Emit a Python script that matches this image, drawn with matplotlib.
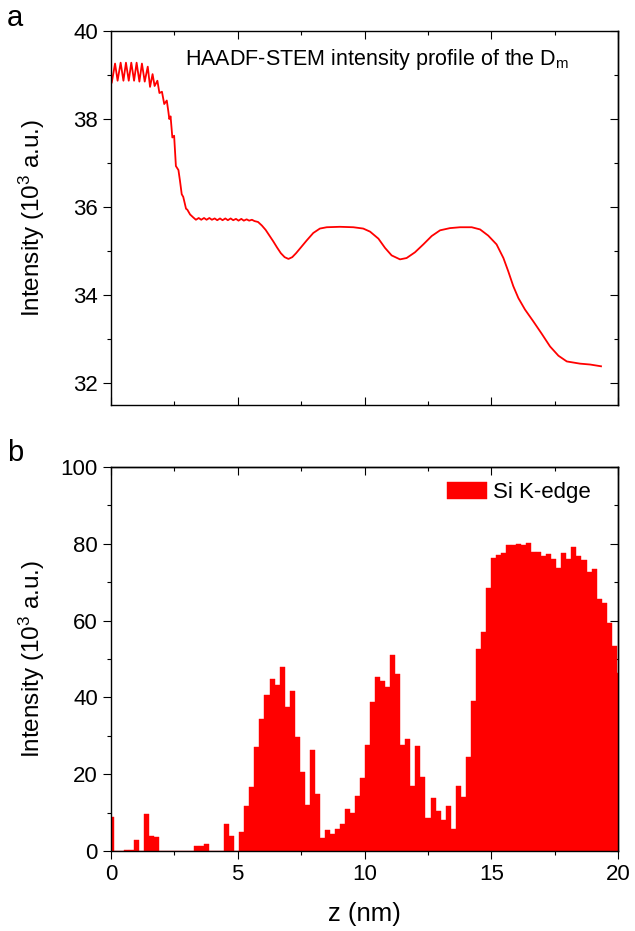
import numpy as np
import matplotlib.pyplot as plt
from matplotlib.ticker import MultipleLocator

plt.rcParams['font.family'] = ['Liberation Sans', 'DejaVu Sans']
plt.rcParams['mathtext.fontset'] = 'custom'
plt.rcParams['mathtext.rm'] = 'Liberation Sans'
plt.rcParams['mathtext.it'] = 'Liberation Sans:italic'

# HAADF-STEM intensity profile (panel a), z in nm, intensity in 10^3 a.u.
z_prof = [0.03, 0.16, 0.26, 0.38, 0.49, 0.59, 0.70, 0.80, 0.91, 1.01,
          1.12, 1.22, 1.33, 1.45, 1.54, 1.64, 1.72, 1.83, 1.91, 2.01,
          2.10, 2.20, 2.26, 2.30, 2.35, 2.42, 2.49, 2.56, 2.66, 2.72,
          2.79, 2.85, 2.96, 3.01, 3.12, 3.25, 3.35, 3.46, 3.56, 3.67,
          3.77, 3.88, 3.98, 4.09, 4.19, 4.30, 4.40, 4.51, 4.61, 4.72,
          4.82, 4.93, 5.03, 5.14, 5.24, 5.35, 5.45, 5.56, 5.66, 5.80,
          5.95, 6.10, 6.25, 6.40, 6.55, 6.70, 6.85, 7.00, 7.15, 7.30,
          7.46, 7.72, 7.98, 8.24, 8.51, 9.03, 9.56, 9.95, 10.22, 10.55,
          10.81, 11.07, 11.40, 11.66, 11.99, 12.32, 12.65, 12.98, 13.37, 13.77,
          14.23, 14.56, 14.88, 15.21, 15.48, 15.67, 15.87, 16.07, 16.33, 16.66,
          16.99, 17.32, 17.65, 17.98, 18.50, 18.90, 19.33]
haadf = [38.83, 39.26, 38.87, 39.28, 38.87, 39.28, 38.87, 39.28, 38.87, 39.28,
         38.85, 39.26, 38.85, 39.19, 38.73, 39.02, 38.75, 38.87, 38.59, 38.62,
         38.34, 38.42, 38.18, 38.00, 38.06, 37.58, 37.62, 36.93, 36.84, 36.60,
         36.29, 36.23, 35.96, 35.94, 35.83, 35.76, 35.71, 35.75, 35.71, 35.75,
         35.71, 35.75, 35.71, 35.74, 35.70, 35.74, 35.70, 35.74, 35.70, 35.74,
         35.70, 35.73, 35.69, 35.73, 35.69, 35.72, 35.69, 35.71, 35.68, 35.66,
         35.58, 35.48, 35.35, 35.22, 35.08, 34.95, 34.86, 34.82, 34.86, 34.95,
         35.06, 35.24, 35.41, 35.51, 35.54, 35.55, 35.54, 35.51, 35.44, 35.28,
         35.07, 34.90, 34.81, 34.84, 34.97, 35.15, 35.34, 35.47, 35.52, 35.54,
         35.54, 35.49, 35.35, 35.15, 34.84, 34.54, 34.20, 33.93, 33.67, 33.40,
         33.12, 32.83, 32.62, 32.49, 32.44, 32.42, 32.38]

# Si K-edge intensity per slice (panel b), 10^3 a.u.
si_kedge = [8.9, 0, 0, 0.3, 0.2, 2.9, 0, 9.6, 3.9, 3.6,
            0, 0, 0, 0, 0, 0, 0, 1.3, 1.2, 1.7,
            0, 0, 0, 7.1, 3.8, 0, 5.0, 11.7, 16.7, 27.0,
            34.5, 40.7, 44.9, 43.2, 47.8, 37.6, 41.7, 29.8, 20.6, 12.0,
            26.4, 14.9, 3.5, 5.4, 4.4, 5.7, 7.1, 11.0, 10.0, 14.4,
            18.9, 27.6, 38.9, 45.4, 44.2, 42.6, 51.0, 46.0, 27.6, 29.2,
            16.9, 27.4, 19.2, 8.7, 13.8, 10.4, 8.2, 11.6, 5.8, 16.8,
            14.1, 24.5, 39.0, 52.5, 57.1, 68.4, 76.3, 77.2, 77.5, 79.7,
            79.7, 80.0, 79.6, 80.1, 77.9, 77.9, 76.8, 77.4, 76.1, 73.8,
            77.7, 76.0, 79.2, 76.8, 75.8, 72.7, 73.4, 65.5, 64.5, 59.4,
            53.5, 46.3]
step = 0.1985
z_bins = np.arange(len(si_kedge)) * step

fig = plt.figure(figsize=(6.35, 9.31), dpi=100)
ax1 = fig.add_axes([111/635, 1-405/931, 507/635, 374/931])
ax2 = fig.add_axes([111/635, 1-851/931, 507/635, 384/931])

tick_fs = 16
label_fs = 17.5
maj = dict(length=5.5, width=0.8)
mnr = dict(length=3.1, width=0.8)

# panel a
ax1.plot(z_prof, haadf, color='red', lw=1.3)
ax1.set_xlim(0, 20)
ax1.set_ylim(31.5, 40)
ax1.xaxis.set_major_locator(MultipleLocator(5))
ax1.xaxis.set_minor_locator(MultipleLocator(2.5))
ax1.yaxis.set_major_locator(MultipleLocator(2))
ax1.yaxis.set_minor_locator(MultipleLocator(1))
ax1.tick_params(axis='x', which='both', direction='in', top=True, labelbottom=False)
ax1.tick_params(axis='y', which='both', direction='out', labelsize=tick_fs, pad=4)
ax1.tick_params(which='major', **maj)
ax1.tick_params(which='minor', **mnr)
ax1.set_ylabel('Intensity (10$^3$ a.u.)', fontsize=label_fs)
ax1.yaxis.set_label_coords(-0.127, 0.5)
ax1.text(2.9, 39.36, 'HAADF-STEM intensity profile of the D$_\\mathrm{m}$',
         fontsize=15.5, va='center', ha='left')
r1 = ax1.secondary_yaxis('right')
r1.yaxis.set_major_locator(MultipleLocator(2))
r1.yaxis.set_minor_locator(MultipleLocator(1))
r1.tick_params(which='both', direction='in', labelright=False)
r1.tick_params(which='major', **maj)
r1.tick_params(which='minor', **mnr)

# panel b
ax2.bar(z_bins, si_kedge, width=step, color='red', edgecolor='red', lw=0.3,
        label='Si K-edge')
ax2.set_xlim(0, 20)
ax2.set_ylim(0, 100)
ax2.xaxis.set_major_locator(MultipleLocator(5))
ax2.xaxis.set_minor_locator(MultipleLocator(2.5))
ax2.yaxis.set_major_locator(MultipleLocator(20))
ax2.yaxis.set_minor_locator(MultipleLocator(10))
ax2.tick_params(which='both', direction='out', labelsize=tick_fs, pad=4)
ax2.tick_params(which='major', **maj)
ax2.tick_params(which='minor', **mnr)
ax2.set_ylabel('Intensity (10$^3$ a.u.)', fontsize=label_fs)
ax2.yaxis.set_label_coords(-0.127, 0.5)
ax2.set_xlabel('z (nm)', fontsize=18.5, labelpad=12)
t2 = ax2.secondary_xaxis('top')
t2.xaxis.set_major_locator(MultipleLocator(5))
t2.xaxis.set_minor_locator(MultipleLocator(2.5))
t2.tick_params(which='both', direction='in', labeltop=False)
t2.tick_params(which='major', **maj)
t2.tick_params(which='minor', **mnr)
r2 = ax2.secondary_yaxis('right')
r2.yaxis.set_major_locator(MultipleLocator(20))
r2.yaxis.set_minor_locator(MultipleLocator(10))
r2.tick_params(which='both', direction='in', labelright=False)
r2.tick_params(which='major', **maj)
r2.tick_params(which='minor', **mnr)
ax2.legend(loc='upper right', bbox_to_anchor=(0.947, 0.962), frameon=False,
           fontsize=16, borderpad=0, borderaxespad=0, handlelength=1.8,
           handleheight=0.8, handletextpad=0.3)

for ax in (ax1, ax2):
    for sp in ax.spines.values():
        sp.set_linewidth(1.0)
r1.spines['right'].set_linewidth(1.0)
r2.spines['right'].set_linewidth(1.0)
t2.spines['top'].set_linewidth(1.0)

fig.text(15/635, 1-18/931, 'a', fontsize=21, ha='center', va='center')
fig.text(15/635, 1-453/931, 'b', fontsize=21, ha='center', va='center')

fig.savefig('out.png', dpi=100)
